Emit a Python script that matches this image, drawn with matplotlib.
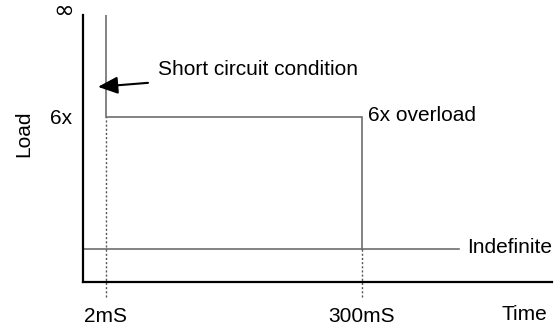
import matplotlib
matplotlib.use("Agg")
import matplotlib.pyplot as plt
import matplotlib.transforms as mtransforms

plt.rcParams["font.family"] = ["Liberation Sans", "DejaVu Sans"]

# Overload curve (schematic): time in ms, load as multiple of rating
time_ticks = [2, 300]
time_labels = ["2mS", "300mS"]
overload_level = 6
continuous_level = 1.2
continuous_end = 2000
load_tick_label = "6x"
infinite_label = "\u221e"
overload_text = "6x overload"
continuous_text = "Indefinite"
short_text = "Short circuit condition"

FS = 15
GRAY = "#6e6e6e"

fig = plt.figure(figsize=(5.6, 3.25), dpi=100)
ax = fig.add_axes([83 / 560, 43 / 325, 469 / 560, 267 / 325])
ax.set_xscale("log")
ax.set_xlim(1.275, 12400)
ax.set_ylim(0, 9.7)
y_top = ax.get_ylim()[1]

for s in ("top", "right"):
    ax.spines[s].set_visible(False)
for s in ("left", "bottom"):
    ax.spines[s].set_linewidth(1.6)
    ax.spines[s].set_color("black")

t_short, t_over = time_ticks

# Short-circuit edge, overload plateau and drop
ax.plot([t_short, t_short, t_over, t_over],
        [y_top, overload_level, overload_level, continuous_level],
        color=GRAY, lw=1.2, solid_joinstyle="miter")
# Continuous rating line
ax.plot([ax.get_xlim()[0], continuous_end], [continuous_level, continuous_level],
        color=GRAY, lw=1.2)

# Dotted guides down to the time labels
blend = mtransforms.blended_transform_factory(ax.transData, ax.transAxes)
guide_bottom = -0.056
for t, lvl in ((t_short, overload_level), (t_over, continuous_level)):
    top_frac = lvl / y_top
    ax.plot([t, t], [guide_bottom, top_frac], transform=blend, color="#555555",
            lw=1.0, ls=(0, (1.5, 1.5)), clip_on=False)

# Ticks
ax.set_xticks(time_ticks, time_labels)
ax.xaxis.set_minor_locator(matplotlib.ticker.NullLocator())
ax.tick_params(axis="x", length=0, pad=18, labelsize=FS)
ax.set_yticks([overload_level], [load_tick_label])
ax.tick_params(axis="y", length=0, pad=8, labelsize=FS)

# Infinite load marker at the top of the load axis
ax.annotate(infinite_label, xy=(0, 1), xycoords="axes fraction",
            xytext=(-9, 4), textcoords="offset pixels", ha="right", va="center",
            fontsize=18, family="DejaVu Sans")

ax.set_ylabel("Load", fontsize=FS)
ax.yaxis.set_label_coords(-0.107, 0.554)
ax.text(0.942, -0.122, "Time", transform=ax.transAxes, fontsize=FS,
        ha="center", va="center")

# Curve labels
ax.annotate(overload_text, xy=(t_over, overload_level), xytext=(6, 1),
            textcoords="offset pixels", ha="left", va="center", fontsize=FS)
ax.annotate(continuous_text, xy=(continuous_end, continuous_level), xytext=(8, 1),
            textcoords="offset pixels", ha="left", va="center", fontsize=FS)

# Short-circuit arrow and caption
tip = (1.71, 7.09)
ax.annotate("", xy=tip, xytext=(50, 4), textcoords="offset pixels",
            arrowprops=dict(arrowstyle="-|>,head_length=0.8,head_width=0.35",
                            mutation_scale=15, color="black", lw=1.5,
                            shrinkA=0, shrinkB=0))
ax.annotate(short_text, xy=tip, xytext=(60, 17), textcoords="offset pixels",
            ha="left", va="center", fontsize=FS)

fig.savefig("out.png", dpi=100)
